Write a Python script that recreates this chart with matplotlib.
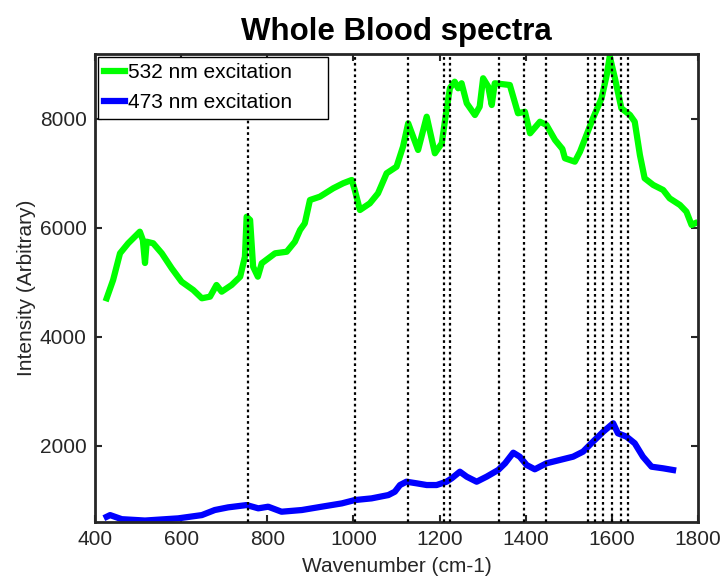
import numpy as np
import matplotlib.pyplot as plt

plt.rcParams['font.family'] = ['Liberation Sans', 'DejaVu Sans']

# 532 nm excitation spectrum
wn_532 = [427, 442, 458, 477, 504, 511, 516, 520, 535, 555, 578, 601, 628, 648,
          667, 682, 694, 717, 737, 748, 752, 760, 767, 778, 787, 818, 845, 864,
          876, 887, 899, 922, 953, 976, 996, 1003, 1015, 1038, 1057, 1077, 1100,
          1115, 1127, 1150, 1170, 1189, 1205, 1216, 1224, 1235, 1243, 1251, 1263,
          1282, 1293, 1301, 1313, 1321, 1328, 1363, 1382, 1398, 1410, 1433, 1448,
          1468, 1485, 1491, 1514, 1526, 1541, 1556, 1576, 1588, 1595, 1607, 1622,
          1642, 1653, 1665, 1676, 1696, 1719, 1734, 1758, 1773, 1785, 1793]
int_532 = [4707, 5043, 5533, 5717, 5930, 5778, 5355, 5746, 5717, 5533, 5258, 5011,
           4859, 4707, 4737, 4951, 4828, 4951, 5104, 5471, 6205, 6145, 5287, 5104,
           5349, 5533, 5562, 5746, 5961, 6084, 6512, 6573, 6727, 6819, 6880, 6696,
           6328, 6451, 6635, 7003, 7124, 7491, 7921, 7431, 8042, 7370, 7554, 8165,
           8569, 8685, 8564, 8656, 8288, 8073, 8226, 8748, 8593, 8257, 8656, 8624,
           8105, 8134, 7737, 7950, 7890, 7614, 7450, 7278, 7216, 7400, 7706, 8013,
           8380, 8808, 9150, 8748, 8197, 8073, 7950, 7339, 6911, 6788, 6696, 6543,
           6420, 6297, 6053, 6084]

# 473 nm excitation spectrum
wn_473 = [427, 435, 462, 516, 593, 648, 678, 709, 752, 779, 802, 833, 880, 926,
          973, 1003, 1042, 1081, 1096, 1108, 1123, 1147, 1170, 1193, 1216, 1228,
          1247, 1263, 1286, 1309, 1336, 1352, 1371, 1386, 1402, 1421, 1448, 1479,
          1510, 1533, 1556, 1580, 1603, 1614, 1634, 1653, 1672, 1692, 1719, 1742]
int_473 = [694, 725, 650, 625, 665, 725, 818, 867, 909, 849, 879, 787, 818, 879,
           940, 1001, 1032, 1093, 1154, 1277, 1338, 1308, 1277, 1277, 1338, 1400,
           1522, 1430, 1338, 1430, 1553, 1676, 1871, 1798, 1645, 1566, 1676, 1737,
           1798, 1890, 2073, 2257, 2411, 2227, 2165, 2044, 1798, 1614, 1584, 1553]

# marked Raman bands
bands = [755, 1003, 1126, 1211, 1223, 1337, 1397, 1448, 1545, 1561, 1580, 1601, 1620, 1638]

fig = plt.figure(figsize=(7.26, 5.81), dpi=100)
ax = fig.add_axes([0.1309, 0.1021, 0.8306, 0.805])

ax.plot(wn_532, int_532, color='#00ff00', lw=4.5, solid_joinstyle='round', label='532 nm excitation')
ax.plot(wn_473, int_473, color='#0000ff', lw=4.5, solid_joinstyle='round', label='473 nm excitation')
for b in bands:
    ax.axvline(b, color='black', lw=1.6, linestyle=(0, (1.2, 1.4)), zorder=5)

ax.set_xlim(400, 1800)
ax.set_ylim(604, 9194)
ax.set_xticks(range(400, 1801, 200))
ax.set_yticks([2000, 4000, 6000, 8000])

ax.tick_params(direction='in', top=True, right=True, length=5, width=1.5,
               labelsize=15, colors='#262626', pad=6)
for s in ax.spines.values():
    s.set_linewidth(2)
    s.set_color('#262626')

ax.set_title('Whole Blood spectra', fontsize=22.5, fontweight='bold', pad=10)
ax.set_xlabel('Wavenumber (cm-1)', fontsize=15, color='#262626', labelpad=6)
ax.set_ylabel('Intensity (Arbitrary)', fontsize=15, color='#262626', labelpad=3)

leg = ax.legend(loc='upper left', bbox_to_anchor=(0.005, 0.5, 0.381, 0.494), mode='expand',
                fontsize=15, handlelength=1.0, handletextpad=0.15,
                borderpad=0.3, labelspacing=0.55, borderaxespad=0, fancybox=False,
                framealpha=1)
leg.get_frame().set_edgecolor('black')
leg.get_frame().set_linewidth(1)

fig.savefig('out.png', dpi=100)
